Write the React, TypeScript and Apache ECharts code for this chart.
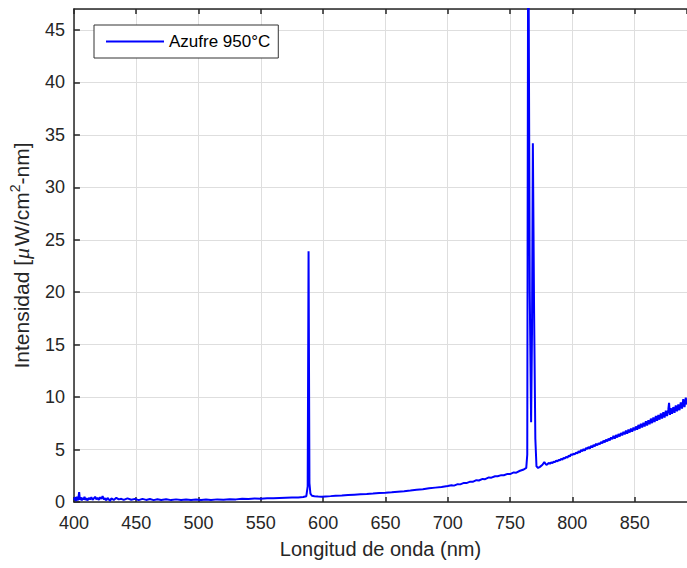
import React, { useEffect, useRef } from "react";
import * as echarts from "echarts";

// Emission spectrum of sulfur at 950 °C: [wavelength (nm), intensity (µW/cm²-nm)]
const seriesName = "Azufre 950°C";

const spectrum: [number, number][] = [
  [400, 0.2], [400.8, 0.45], [401.5, 0.1], [402.2, 0.5], [403, 0.15], [403.6, 0.4],
  [404.2, 0.95], [404.8, 0.2], [405.5, 0.45], [406.3, 0.15], [407, 0.4], [407.8, 0.25],
  [408.5, 0.5], [409.3, 0.2], [410, 0.35], [411, 0.15], [412, 0.4], [413, 0.25],
  [414, 0.45], [415, 0.2], [416, 0.35], [417, 0.5], [418, 0.25], [419, 0.4],
  [420, 0.2], [421, 0.45], [422, 0.3], [423, 0.55], [424, 0.25], [425, 0.35],
  [426, 0.15], [427, 0.4], [428, 0.25], [429, 0.1], [430, 0.35], [432, 0.2],
  [434, 0.4], [436, 0.25], [438, 0.3], [440, 0.2], [443, 0.35], [446, 0.22],
  [449, 0.3], [452, 0.18], [455, 0.3], [458, 0.2], [461, 0.28], [464, 0.18],
  [467, 0.26], [470, 0.2], [474, 0.27], [478, 0.18], [482, 0.25], [486, 0.2],
  [490, 0.24], [494, 0.19], [498, 0.23], [502, 0.2], [506, 0.24], [510, 0.2],
  [515, 0.25], [520, 0.22], [525, 0.27], [530, 0.25], [535, 0.3], [540, 0.28],
  [545, 0.33], [550, 0.32], [555, 0.35], [560, 0.36], [565, 0.38], [570, 0.4],
  [575, 0.42], [580, 0.44], [584, 0.47], [586.5, 0.55], [587.6, 1.5], [588.3, 23.9],
  [589.0, 1.8], [589.8, 0.8], [591, 0.6], [593, 0.55], [596, 0.52], [599, 0.5],
  [602, 0.53], [606, 0.56], [610, 0.6], [615, 0.62], [620, 0.66], [625, 0.7],
  [630, 0.73], [635, 0.76], [640, 0.8], [645, 0.85], [650, 0.88], [655, 0.92],
  [660, 0.98], [665, 1.03], [670, 1.09], [675, 1.16], [680, 1.22], [685, 1.3],
  [690, 1.37], [695, 1.44], [700, 1.52], [703, 1.6], [705, 1.56], [708, 1.7],
  [710, 1.68], [713, 1.82], [715, 1.8], [718, 1.94], [720, 1.92], [723, 2.08],
  [725, 2.05], [728, 2.2], [730, 2.18], [733, 2.34], [735, 2.32], [738, 2.46],
  [740, 2.45], [743, 2.56], [745, 2.55], [748, 2.68], [750, 2.66], [753, 2.82],
  [755, 2.8], [758, 2.98], [761, 3.1], [763, 3.25], [763.8, 4.5],
  [764.6, 60], [765.8, 20], [766.9, 7.6], [767.6, 16], [768.3, 34.2], [769.3, 18],
  [770.3, 6], [771.2, 3.4], [772.5, 3.25], [774, 3.35], [776, 3.55], [777.5, 3.8],
  [779, 3.55], [780, 3.6], [781, 3.72], [782, 3.65], [783, 3.78], [784, 3.7],
  [785, 3.85], [786, 3.8], [787, 3.95], [788, 3.86], [789, 4.02], [790, 3.98],
  [791, 4.12], [792, 4.05], [793, 4.2], [794, 4.15], [795, 4.3], [796, 4.22],
  [797, 4.42], [798, 4.35], [799, 4.55], [800, 4.48], [801, 4.62], [802, 4.55],
  [803, 4.72], [804, 4.62], [805, 4.85], [806, 4.72], [807, 4.95], [808, 4.85],
  [809, 5.05], [810, 4.9], [811, 5.15], [812, 5.05], [813, 5.25], [814, 5.1],
  [815, 5.35], [816, 5.2], [817, 5.45], [818, 5.3], [819, 5.55], [820, 5.4],
  [821, 5.6], [822, 5.5], [823, 5.72], [824, 5.58], [825, 5.85], [826, 5.68],
  [827, 5.95], [828, 5.78], [829, 6.05], [830, 5.88], [831, 6.15], [832, 5.98],
  [833, 6.3], [834, 6.05], [835, 6.38], [836, 6.15], [837, 6.48], [838, 6.25],
  [839, 6.58], [840, 6.35], [841, 6.68], [842, 6.45], [843, 6.8], [844, 6.52],
  [845, 6.9], [846, 6.62], [847, 7.0], [848, 6.7], [849, 7.1], [850, 6.82],
  [851, 7.2], [852, 6.9], [853, 7.35], [854, 7.0], [855, 7.45], [856, 7.1],
  [857, 7.55], [858, 7.2], [859, 7.7], [860, 7.3], [861, 7.8], [862, 7.42],
  [863, 7.95], [864, 7.52], [865, 8.05], [866, 7.62], [867, 8.2], [868, 7.75],
  [869, 8.3], [870, 7.85], [871, 8.45], [872, 7.95], [873, 8.55], [874, 8.05],
  [875, 8.7], [876, 8.2], [877, 8.8], [877.6, 9.45], [878.3, 8.3], [879, 8.95],
  [880, 8.4], [881, 9.05], [882, 8.5], [883, 9.2], [884, 8.65], [885, 9.3],
  [886, 8.75], [887, 9.5], [888, 8.9], [889, 9.8], [890, 9.05], [891, 9.95], [892, 9.3],
];

const xRange = { min: 400, max: 892, step: 50 };
const yRange = { min: 0, max: 47, step: 5 };

const FONT = "'Liberation Sans', Arial, Helvetica, sans-serif";
const AXIS_COLOR = "#262626";
const GRID_COLOR = "#dedede";

export default function App() {
  const ref = useRef<HTMLDivElement>(null);

  useEffect(() => {
    if (!ref.current) return;
    const chart = echarts.init(ref.current, null, { renderer: "svg" });

    chart.setOption({
      animation: false,
      backgroundColor: "#ffffff",
      grid: { left: 73, right: -1, top: 9, bottom: 66, containLabel: false },
      legend: {
        left: 94,
        top: 25,
        data: [seriesName],
        icon: "rect",
        itemWidth: 58,
        itemHeight: 2,
        padding: [7, 8, 7, 12],
        borderColor: "#333333",
        borderWidth: 1,
        backgroundColor: "#ffffff",
        textStyle: { fontFamily: FONT, fontSize: 17, color: "#000000", lineHeight: 19 },
      },
      xAxis: [
        {
          type: "value",
          position: "bottom",
          min: xRange.min,
          max: xRange.max,
          interval: xRange.step,
          name: "Longitud de onda (nm)",
          nameLocation: "middle",
          nameGap: 37,
          nameTextStyle: { fontFamily: FONT, fontSize: 20, color: AXIS_COLOR },
          axisLine: { show: true, onZero: false, lineStyle: { color: AXIS_COLOR, width: 1.5 } },
          axisTick: { show: true, inside: true, length: 5, lineStyle: { color: AXIS_COLOR, width: 1.5 } },
          axisLabel: {
            fontFamily: FONT,
            fontSize: 18,
            color: AXIS_COLOR,
            margin: 12,
            showMaxLabel: false,
          },
          splitLine: { show: true, lineStyle: { color: GRID_COLOR, width: 1 } },
        },
        {
          type: "value",
          position: "top",
          min: xRange.min,
          max: xRange.max,
          interval: xRange.step,
          axisLine: { show: true, onZero: false, lineStyle: { color: AXIS_COLOR, width: 1.5 } },
          axisTick: { show: true, inside: true, length: 5, lineStyle: { color: AXIS_COLOR, width: 1.5 } },
          axisLabel: { show: false },
          splitLine: { show: false },
        },
      ],
      yAxis: {
        type: "value",
        min: yRange.min,
        max: yRange.max,
        interval: yRange.step,
        name: "Intensidad [{mu|μ}W/cm{sup|2}-nm]",
        nameLocation: "middle",
        nameGap: 30,
        nameTextStyle: {
          fontFamily: FONT,
          fontSize: 21,
          lineHeight: 26,
          color: AXIS_COLOR,
          rich: {
            mu: {
              fontFamily: "'Liberation Serif', serif",
              fontStyle: "italic",
              fontSize: 22,
              lineHeight: 26,
              color: AXIS_COLOR,
              padding: [0, 2, 0, 1],
            },
            sup: {
              fontFamily: FONT,
              fontSize: 14,
              lineHeight: 14,
              color: AXIS_COLOR,
              verticalAlign: "top",
            },
          },
        },
        axisLine: { show: true, onZero: false, lineStyle: { color: AXIS_COLOR, width: 1.5 } },
        axisTick: { show: true, inside: true, length: 6, lineStyle: { color: AXIS_COLOR, width: 1.5 } },
        axisLabel: {
          fontFamily: FONT,
          fontSize: 18,
          color: AXIS_COLOR,
          margin: 9,
          showMaxLabel: false,
        },
        splitLine: { show: true, lineStyle: { color: GRID_COLOR, width: 1 } },
      },
      series: [
        {
          name: seriesName,
          type: "line",
          xAxisIndex: 0,
          data: spectrum,
          showSymbol: false,
          symbol: "none",
          clip: true,
          lineStyle: { color: "#0000ff", width: 2 },
          itemStyle: { color: "#0000ff" },
        },
      ],
    });

    return () => chart.dispose();
  }, []);

  return (
    <div
      ref={ref}
      style={{ position: "absolute", left: 0, top: 0, width: 687, height: 568 }}
    />
  );
}
